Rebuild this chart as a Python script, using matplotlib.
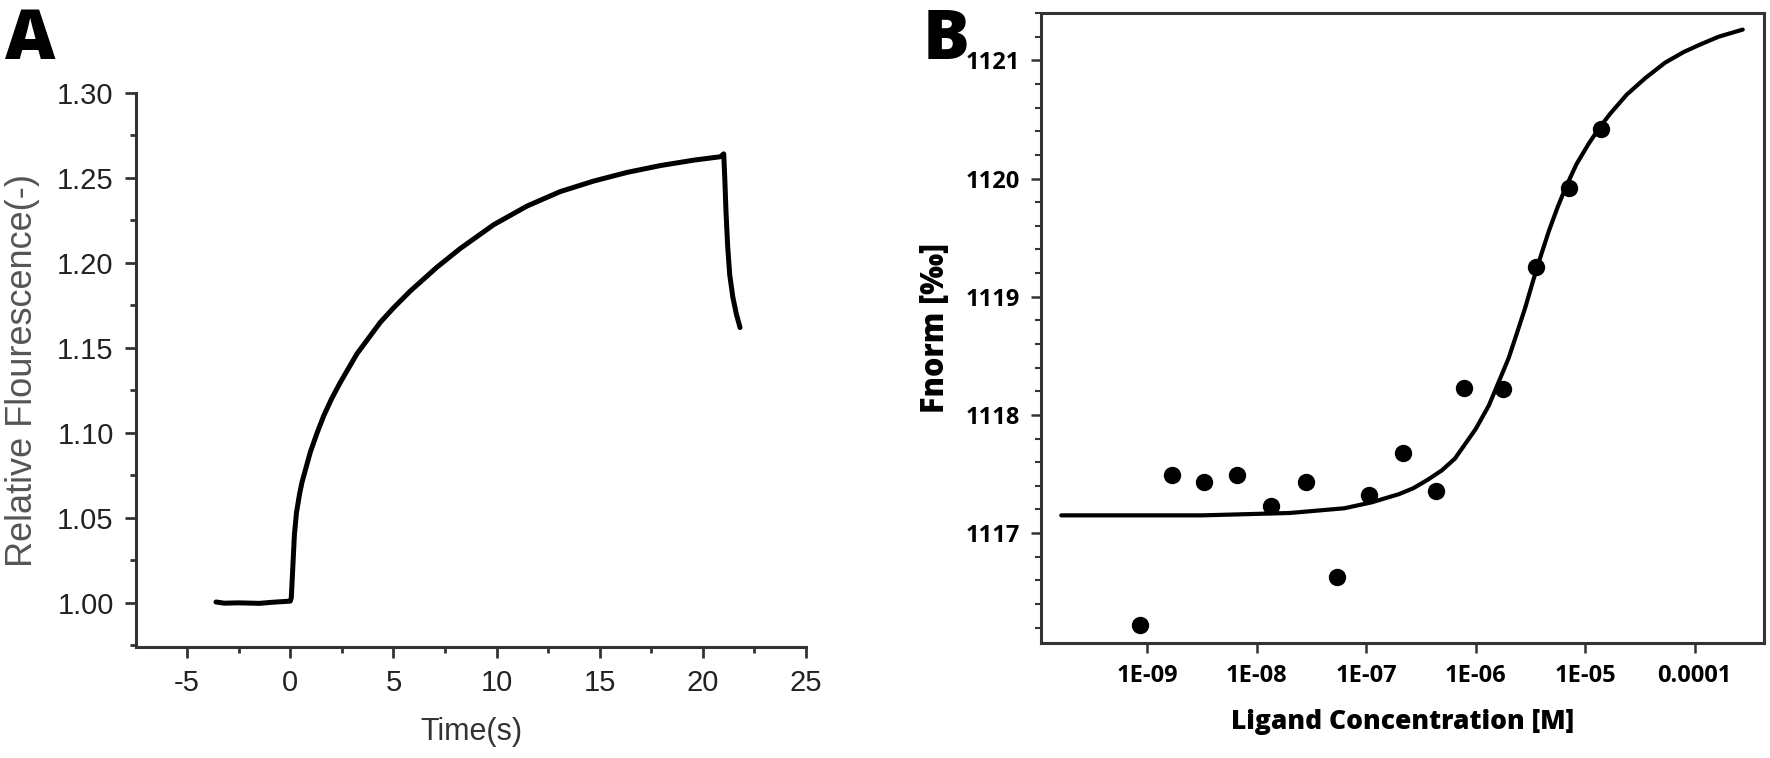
import matplotlib
matplotlib.use("Agg")
import matplotlib.pyplot as plt
from matplotlib.ticker import MultipleLocator, FixedLocator, NullLocator

plt.rcParams['axes.unicode_minus'] = False

# Panel A: fluorescence trace
time_s = [-3.6, -3.2, -2.5, -1.5, -0.8, 0.0, 0.05, 0.12, 0.2, 0.3, 0.45, 0.57,
          0.97, 1.3, 1.62, 2.0, 2.42, 3.23, 4.36, 5.0, 5.82, 7.11, 8.24, 9.86,
          11.48, 13.09, 14.71, 16.33, 17.94, 19.56, 20.85, 21.01, 21.06, 21.12,
          21.2, 21.3, 21.45, 21.62, 21.8]
rel_fluor = [1.0005, 0.9998, 1.000, 0.9997, 1.0004, 1.001, 1.003, 1.02, 1.04,
             1.053, 1.064, 1.071, 1.0886, 1.100, 1.110, 1.120, 1.1296, 1.1465,
             1.165, 1.1735, 1.1835, 1.1975, 1.2085, 1.2225, 1.2335, 1.2420,
             1.2482, 1.2533, 1.2573, 1.2605, 1.2625, 1.2642, 1.250, 1.230,
             1.210, 1.193, 1.180, 1.170, 1.162]

# Panel B: MST binding data (Fnorm vs ligand concentration)
conc_M = [8.6e-10, 1.7e-9, 3.3e-9, 6.6e-9, 1.35e-8, 2.8e-8, 5.4e-8, 1.07e-7,
          2.15e-7, 4.3e-7, 7.9e-7, 1.78e-6, 3.55e-6, 7.1e-6, 1.41e-5]
fnorm = [1116.22, 1117.49, 1117.43, 1117.49, 1117.23, 1117.43, 1116.63,
         1117.32, 1117.68, 1117.36, 1118.23, 1118.22, 1119.25, 1119.92, 1120.42]

fit_conc = [1.64e-10, 3.16e-9, 2.0e-8, 6.31e-8, 1.12e-7, 2.0e-7, 2.7e-7,
            3.63e-7, 4.9e-7, 6.46e-7, 1.0e-6, 1.32e-6, 1.66e-6, 2.0e-6,
            2.34e-6, 2.82e-6, 3.31e-6, 3.98e-6, 4.68e-6, 5.62e-6, 6.61e-6,
            8.32e-6, 1.07e-5, 1.35e-5, 1.70e-5, 2.40e-5, 3.55e-5, 5.37e-5,
            7.94e-5, 1.10e-4, 1.66e-4, 2.75e-4]
fit_fnorm = [1117.15, 1117.15, 1117.17, 1117.21, 1117.26, 1117.33, 1117.38,
             1117.45, 1117.53, 1117.63, 1117.88, 1118.08, 1118.30, 1118.48,
             1118.67, 1118.90, 1119.12, 1119.36, 1119.56, 1119.76, 1119.92,
             1120.12, 1120.29, 1120.43, 1120.55, 1120.71, 1120.85, 1120.98,
             1121.07, 1121.13, 1121.20, 1121.26]

xtick_vals = [1e-9, 1e-8, 1e-7, 1e-6, 1e-5, 1e-4]
xtick_labels = ['1E-09', '1E-08', '1E-07', '1E-06', '1E-05', '0.0001']
ytick_vals_b = [1117, 1118, 1119, 1120, 1121]

fig = plt.figure(figsize=(17.7, 7.58), dpi=100)

# ---- A ----
axA = fig.add_axes([0.0768, 0.1464, 0.3786, 0.7309])
axA.plot(time_s, rel_fluor, color='black', lw=3.6, solid_joinstyle='round',
         solid_capstyle='round')
axA.set_xlim(-7.48, 25)
axA.set_ylim(0.974, 1.30)
axA.xaxis.set_major_locator(MultipleLocator(5))
axA.xaxis.set_minor_locator(MultipleLocator(2.5))
axA.yaxis.set_major_locator(MultipleLocator(0.05))
axA.yaxis.set_minor_locator(MultipleLocator(0.025))
axA.yaxis.set_major_formatter(matplotlib.ticker.FormatStrFormatter('%.2f'))
for s in ['top', 'right']:
    axA.spines[s].set_visible(False)
for s in ['left', 'bottom']:
    axA.spines[s].set_linewidth(2.2)
    axA.spines[s].set_color('#333333')
axA.tick_params(which='major', length=8, width=2, color='#333333',
                labelsize=21, labelcolor='#222222', pad=8)
axA.tick_params(which='minor', length=4, width=2, color='#333333')
for lab in axA.get_xticklabels() + axA.get_yticklabels():
    lab.set_family('Liberation Sans')
axA.set_xlabel('Time(s)', fontsize=22, family='Liberation Sans',
               color='#333333', labelpad=14)
axA.set_ylabel('Relative Flourescence(-)', fontsize=26, family='Liberation Sans',
               color='#555555', labelpad=12)

# ---- B ----
axB = fig.add_axes([0.5881, 0.1517, 0.4085, 0.8311])
axB.plot(fit_conc, fit_fnorm, color='black', lw=3.0, solid_capstyle='round',
         solid_joinstyle='round')
axB.plot(conc_M, fnorm, 'o', color='black', markersize=11.5)
axB.set_xscale('log')
axB.set_xlim(1.07e-10, 4.3e-4)
axB.set_ylim(1116.07, 1121.40)
axB.xaxis.set_major_locator(FixedLocator(xtick_vals))
axB.set_xticklabels(xtick_labels)
axB.xaxis.set_minor_locator(NullLocator())
axB.yaxis.set_major_locator(FixedLocator(ytick_vals_b))
axB.yaxis.set_minor_locator(MultipleLocator(0.2))
axB.yaxis.set_major_formatter(matplotlib.ticker.FormatStrFormatter('%d'))
for s in axB.spines.values():
    s.set_linewidth(2.2)
    s.set_color('#333333')
axB.tick_params(which='major', length=7, width=1.8, color='#333333',
                labelsize=17, pad=8)
axB.tick_params(axis='y', which='minor', length=4, width=1.5, color='#333333')
for lab in axB.get_xticklabels() + axB.get_yticklabels():
    lab.set_family('Open Sans')
    lab.set_weight('bold')
axB.set_xlabel('Ligand Concentration [M]', fontsize=19, family='Open Sans',
               weight='heavy', labelpad=15)
axB.set_ylabel('Fnorm [‰]', fontsize=22, family=['Open Sans', 'DejaVu Sans'],
               weight='heavy', labelpad=10)

fig.text(0.003, 0.992, 'A', fontsize=50, weight='heavy', family='Open Sans',
         va='top', ha='left')
fig.text(0.521, 0.992, 'B', fontsize=50, weight='heavy', family='Open Sans',
         va='top', ha='left')

fig.savefig('out.png', dpi=100)
